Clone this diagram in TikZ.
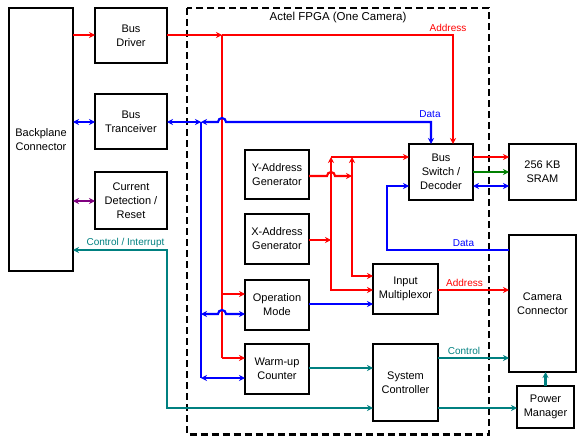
\documentclass[tikz,border=0pt]{standalone}
\usepackage{fontspec}
\setmainfont{Liberation Sans}
\usetikzlibrary{arrows.meta}
\definecolor{cred}{RGB}{255,0,0}
\definecolor{cblue}{RGB}{0,0,255}
\definecolor{cgreen}{RGB}{0,128,0}
\definecolor{cteal}{RGB}{0,128,128}
\definecolor{cpurple}{RGB}{128,0,128}
\begin{document}
\begin{tikzpicture}[x=1pt,y=-1pt,
  box/.style={draw, line width=2.2pt, align=center, inner sep=0pt, outer sep=0pt, font=\fontsize{11}{14}\selectfont},
  wire/.style={line width=2.1pt},
  lbl/.style={font=\fontsize{10}{12}\selectfont, inner sep=0pt},
  >={Stealth[length=6pt,width=6pt]}]
\useasboundingbox (0,0) rectangle (577,436);

% FPGA frame
\draw[line width=2.2pt, dash pattern=on 7pt off 4pt] (187,8) rectangle (489,434.5);
\node[font=\fontsize{11.5}{14}\selectfont, inner sep=0pt] (title) at (338,18) {Actel FPGA (One Camera)};

% boxes
\node[box,minimum width=64pt,minimum height=263pt] (bp) at (41,139.5) {Backplane\\Connector};
\node[box,minimum width=72pt,minimum height=55pt] (bd) at (131,35.5) {Bus\\Driver};
\node[box,minimum width=72pt,minimum height=55pt] (bt) at (131,121.5) {Bus\\Tranceiver};
\node[box,minimum width=72pt,minimum height=57pt] (cd) at (131,200.5) {Current\\Detection /\\Reset};
\node[box,minimum width=64pt,minimum height=49pt] (ya) at (277,174.5) {Y-Address\\Generator};
\node[box,minimum width=64pt,minimum height=50pt] (xa) at (277,239) {X-Address\\Generator};
\node[box,minimum width=64pt,minimum height=50pt] (om) at (277,305) {Operation\\Mode};
\node[box,minimum width=64pt,minimum height=50pt] (wc) at (277,369) {Warm-up\\Counter};
\node[box,minimum width=64pt,minimum height=56pt] (bs) at (441,172) {Bus\\Switch /\\Decoder};
\node[box,minimum width=67pt,minimum height=56pt] (sr) at (542.5,172) {256 KB\\SRAM};
\node[box,minimum width=65pt,minimum height=50pt] (im) at (405.5,289) {Input\\Multiplexor};
\node[box,minimum width=65pt,minimum height=77pt] (sc) at (405.5,382.5) {System\\Controller};
\node[box,minimum width=67pt,minimum height=137pt] (cc) at (542.5,303.5) {Camera\\Connector};
\node[box,minimum width=57pt,minimum height=42pt] (pm) at (545.5,407) {Power\\Manager};

% junction coordinates
\coordinate (ra) at (222,35);
\coordinate (bv) at (201,122);
\coordinate (va) at (331,157);
\coordinate (vb) at (352,157);

% red address lines
\draw[wire,cred,->] (bp.east |- 0,35) -- (bd.west |- 0,35);
\draw[wire,cred,->] (bd.east |- 0,35) -- (ra);
\draw[wire,cred,->] (ra) -| ([xshift=12pt]bs.north);
\node[lbl,text=cred] (la1) at (448,28) {Address};
\draw[wire,cred] (ra) -- (222,358);
\draw[wire,cred,->] (ra |- 0,294) -- (om.west |- 0,294);
\draw[wire,cred,->] (ra |- 0,358) -- (wc.west |- 0,358);

\draw[wire,cred,->] (va) -- (bs.west |- va);
\draw[wire,cred,<->] (va) |- (im.west |- 0,290);
\draw[wire,cred,<->] (vb) |- (im.west |- 0,276);
\draw[wire,cred,->] (xa.east |- 0,240) -- (va |- 0,240);
\draw[wire,cred,->] (ya.east |- 0,176) -- (327,176) arc[start angle=180,end angle=360,radius=4] -- (vb |- 0,176);
\draw[wire,cred,->] (im.east |- 0,290) -- (cc.west |- 0,290);
\node[lbl,text=cred] (la2) at (464.5,283) {Address};

% bus switch to SRAM
\draw[wire,cred,->] (bs.east |- 0,157) -- (sr.west |- 0,157);
\draw[wire,cgreen,->] (bs.east |- 0,172) -- (sr.west |- 0,172);
\draw[wire,cblue,<->] (bs.east |- 0,186) -- (sr.west |- 0,186);

% blue data lines
\draw[wire,cblue,<->] (bp.east |- 0,122) -- (bt.west |- 0,122);
\draw[wire,cblue,<->] (bt.east |- 0,122) -- (bv);
\draw[wire,cblue,<->] (bv) -- (218,122) arc[start angle=180,end angle=360,radius=4] -- (431,122) -- ([xshift=-10pt]bs.north);
\node[lbl,text=cblue] (ld1) at (430,114) {Data};
\draw[wire,cblue] (bv) -- (201,378);
\draw[wire,cblue,<->] (bv |- 0,314) -- (218,314) arc[start angle=180,end angle=360,radius=4] -- (om.west |- 0,314);
\draw[wire,cblue,<->] (bv |- 0,378) -- (wc.west |- 0,378);
\draw[wire,cblue,->] (om.east |- 0,304) -- (im.west |- 0,304);
\draw[wire,cblue,->] (cc.west |- 0,250) -| (387,186) -- (bs.west |- 0,186);
\node[lbl,text=cblue] (ld2) at (463.5,243) {Data};

% purple
\draw[wire,cpurple,<->] (bp.east |- 0,201) -- (cd.west |- 0,201);

% teal control
\draw[wire,cteal,<->] (bp.east |- 0,250) -| (167,408) -- (sc.west |- 0,408);
\node[lbl,text=cteal] (lci) at (125.5,243) {Control / Interrupt};
\draw[wire,cteal,->] (wc.east |- 0,368) -- (sc.west |- 0,368);
\draw[wire,cteal,->] (sc.east |- 0,358) -- (cc.west |- 0,358);
\node[lbl,text=cteal] (lc) at (464,351) {Control};
\draw[wire,cteal,->] (sc.east |- 0,408) -- (pm.west |- 0,408);
\draw[wire,cteal,->] (pm.north) -- (cc.south -| pm.north);
\end{tikzpicture}
\end{document}
